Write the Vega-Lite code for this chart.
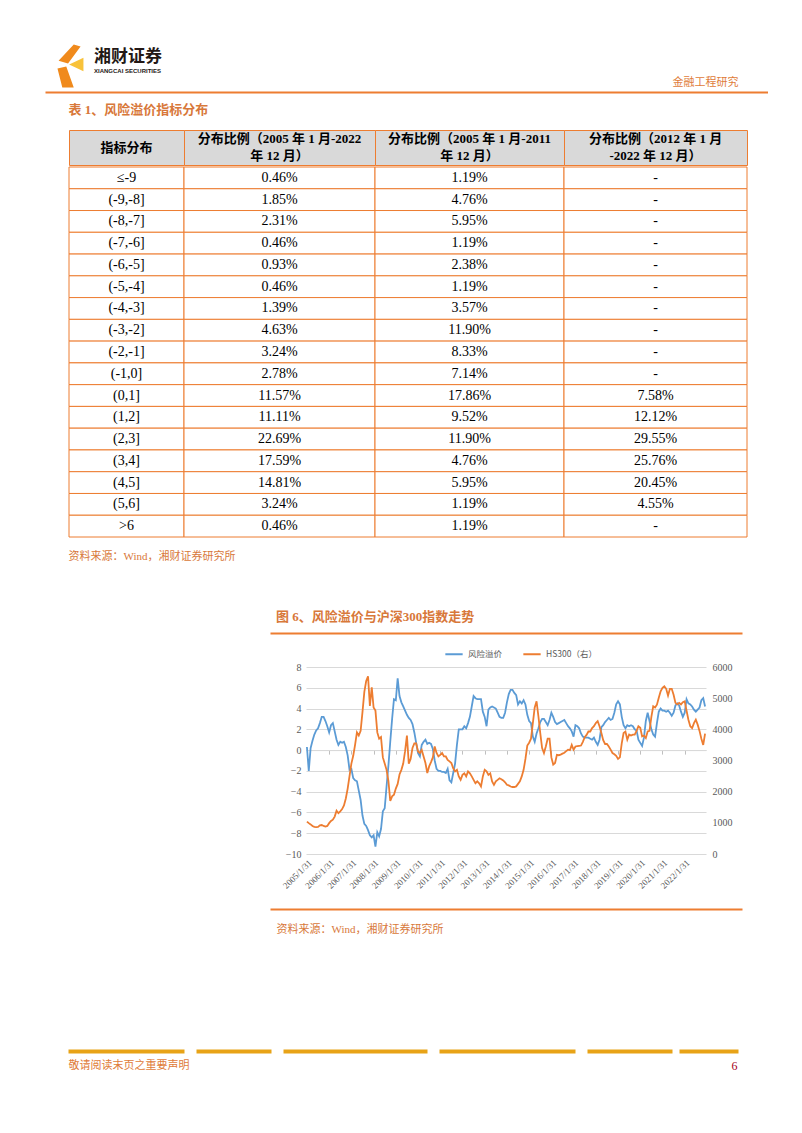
{
  "$schema": "https://vega.github.io/schema/vega-lite/v6.json",
  "background": "white",
  "padding": {"left": 45, "top": 44, "right": 0, "bottom": 20},
  "spacing": 0,
  "resolve": {"scale": {"color": "independent", "shape": "independent"}, "legend": {"color": "independent", "shape": "independent"}},
  "config": {
    "view": {"stroke": null},
    "font": "Noto Sans CJK SC",
    "axis": {"labelFont": "Liberation Serif", "titleFont": "Noto Sans CJK SC"},
    "title": {"font": "Noto Sans CJK SC"}
  },
  "datasets": {
    "head": [
      {"col": "bin", "t": "指标分布"},
      {"col": "all", "t": "分布比例（2005 年 1 月-2022\n年 12 月）"},
      {"col": "early", "t": "分布比例（2005 年 1 月-2011\n年 12 月）"},
      {"col": "late", "t": "分布比例（2012 年 1 月\n-2022 年 12 月）"}
    ],
    "table": [
      {"bin": "≤-9", "all": "0.46%", "early": "1.19%", "late": "-"},
      {"bin": "(-9,-8]", "all": "1.85%", "early": "4.76%", "late": "-"},
      {"bin": "(-8,-7]", "all": "2.31%", "early": "5.95%", "late": "-"},
      {"bin": "(-7,-6]", "all": "0.46%", "early": "1.19%", "late": "-"},
      {"bin": "(-6,-5]", "all": "0.93%", "early": "2.38%", "late": "-"},
      {"bin": "(-5,-4]", "all": "0.46%", "early": "1.19%", "late": "-"},
      {"bin": "(-4,-3]", "all": "1.39%", "early": "3.57%", "late": "-"},
      {"bin": "(-3,-2]", "all": "4.63%", "early": "11.90%", "late": "-"},
      {"bin": "(-2,-1]", "all": "3.24%", "early": "8.33%", "late": "-"},
      {"bin": "(-1,0]", "all": "2.78%", "early": "7.14%", "late": "-"},
      {"bin": "(0,1]", "all": "11.57%", "early": "17.86%", "late": "7.58%"},
      {"bin": "(1,2]", "all": "11.11%", "early": "9.52%", "late": "12.12%"},
      {"bin": "(2,3]", "all": "22.69%", "early": "11.90%", "late": "29.55%"},
      {"bin": "(3,4]", "all": "17.59%", "early": "4.76%", "late": "25.76%"},
      {"bin": "(4,5]", "all": "14.81%", "early": "5.95%", "late": "20.45%"},
      {"bin": "(5,6]", "all": "3.24%", "early": "1.19%", "late": "4.55%"},
      {"bin": ">6", "all": "0.46%", "early": "1.19%", "late": "-"}
    ],
    "logo": [
      {"part": "orange"},
      {"part": "yellow"}
    ],
    "series": [
      {"m":"2005-01","rp":0.3,"hs":1040},{"m":"2005-02","rp":-2.0,"hs":990},{"m":"2005-03","rp":0.2,"hs":950},{"m":"2005-04","rp":0.9,"hs":900},{"m":"2005-05","rp":1.5,"hs":870},{"m":"2005-06","rp":1.9,"hs":860},{"m":"2005-07","rp":2.1,"hs":870},{"m":"2005-08","rp":2.6,"hs":920},{"m":"2005-09","rp":3.2,"hs":930},{"m":"2005-10","rp":3.2,"hs":900},{"m":"2005-11","rp":2.8,"hs":880},{"m":"2005-12","rp":2.3,"hs":900},
      {"m":"2006-01","rp":1.7,"hs":990},{"m":"2006-02","rp":2.4,"hs":1060},{"m":"2006-03","rp":2.6,"hs":1100},{"m":"2006-04","rp":1.8,"hs":1200},{"m":"2006-05","rp":1.0,"hs":1390},{"m":"2006-06","rp":0.5,"hs":1310},{"m":"2006-07","rp":0.8,"hs":1370},{"m":"2006-08","rp":0.7,"hs":1440},{"m":"2006-09","rp":0.8,"hs":1560},{"m":"2006-10","rp":0.3,"hs":1780},{"m":"2006-11","rp":-0.5,"hs":2100},{"m":"2006-12","rp":-1.9,"hs":2500},
      {"m":"2007-01","rp":-1.8,"hs":2900},{"m":"2007-02","rp":-2.7,"hs":3150},{"m":"2007-03","rp":-2.9,"hs":3500},{"m":"2007-04","rp":-3.0,"hs":3900},{"m":"2007-05","rp":-3.9,"hs":3800},{"m":"2007-06","rp":-4.8,"hs":3950},{"m":"2007-07","rp":-6.3,"hs":4550},{"m":"2007-08","rp":-7.1,"hs":5200},{"m":"2007-09","rp":-7.3,"hs":5550},{"m":"2007-10","rp":-7.7,"hs":5700},{"m":"2007-11","rp":-8.2,"hs":4750},{"m":"2007-12","rp":-8.4,"hs":5350},
      {"m":"2008-01","rp":-8.2,"hs":4700},{"m":"2008-02","rp":-9.3,"hs":4600},{"m":"2008-03","rp":-7.9,"hs":3900},{"m":"2008-04","rp":-8.3,"hs":3700},{"m":"2008-05","rp":-7.6,"hs":3750},{"m":"2008-06","rp":-5.9,"hs":3100},{"m":"2008-07","rp":-5.6,"hs":2900},{"m":"2008-08","rp":-3.5,"hs":2700},{"m":"2008-09","rp":-1.5,"hs":2350},{"m":"2008-10","rp":0.8,"hs":1700},{"m":"2008-11","rp":3.0,"hs":1850},{"m":"2008-12","rp":4.9,"hs":1900},
      {"m":"2009-01","rp":4.8,"hs":2100},{"m":"2009-02","rp":6.9,"hs":2250},{"m":"2009-03","rp":5.2,"hs":2550},{"m":"2009-04","rp":4.6,"hs":2700},{"m":"2009-05","rp":4.2,"hs":2900},{"m":"2009-06","rp":3.8,"hs":3300},{"m":"2009-07","rp":3.4,"hs":3800},{"m":"2009-08","rp":3.1,"hs":2900},{"m":"2009-09","rp":2.9,"hs":3050},{"m":"2009-10","rp":2.5,"hs":3400},{"m":"2009-11","rp":1.7,"hs":3550},{"m":"2009-12","rp":0.7,"hs":3550},
      {"m":"2010-01","rp":-0.3,"hs":3290},{"m":"2010-02","rp":-0.6,"hs":3240},{"m":"2010-03","rp":0.5,"hs":3340},{"m":"2010-04","rp":0.8,"hs":3130},{"m":"2010-05","rp":1.0,"hs":2920},{"m":"2010-06","rp":0.6,"hs":2600},{"m":"2010-07","rp":0.7,"hs":2810},{"m":"2010-08","rp":0.6,"hs":2950},{"m":"2010-09","rp":0.1,"hs":3100},{"m":"2010-10","rp":-1.0,"hs":3450},{"m":"2010-11","rp":-1.8,"hs":3240},{"m":"2010-12","rp":-2.0,"hs":3130},
      {"m":"2011-01","rp":-2.0,"hs":3180},{"m":"2011-02","rp":-2.1,"hs":3240},{"m":"2011-03","rp":-2.1,"hs":3130},{"m":"2011-04","rp":-2.2,"hs":3130},{"m":"2011-05","rp":-1.8,"hs":3020},{"m":"2011-06","rp":-2.9,"hs":2970},{"m":"2011-07","rp":-3.1,"hs":2920},{"m":"2011-08","rp":-2.2,"hs":2750},{"m":"2011-09","rp":-1.3,"hs":2650},{"m":"2011-10","rp":0.5,"hs":2700},{"m":"2011-11","rp":2.0,"hs":2490},{"m":"2011-12","rp":2.0,"hs":2380},
      {"m":"2012-01","rp":2.0,"hs":2540},{"m":"2012-02","rp":2.3,"hs":2590},{"m":"2012-03","rp":2.1,"hs":2490},{"m":"2012-04","rp":2.6,"hs":2650},{"m":"2012-05","rp":3.2,"hs":2590},{"m":"2012-06","rp":4.2,"hs":2490},{"m":"2012-07","rp":5.2,"hs":2380},{"m":"2012-08","rp":5.0,"hs":2270},{"m":"2012-09","rp":4.9,"hs":2330},{"m":"2012-10","rp":4.9,"hs":2270},{"m":"2012-11","rp":4.9,"hs":2170},{"m":"2012-12","rp":3.7,"hs":2490},
      {"m":"2013-01","rp":3.2,"hs":2700},{"m":"2013-02","rp":2.3,"hs":2650},{"m":"2013-03","rp":3.9,"hs":2540},{"m":"2013-04","rp":4.1,"hs":2590},{"m":"2013-05","rp":4.2,"hs":2330},{"m":"2013-06","rp":4.1,"hs":2220},{"m":"2013-07","rp":4.0,"hs":2330},{"m":"2013-08","rp":3.6,"hs":2380},{"m":"2013-09","rp":3.2,"hs":2430},{"m":"2013-10","rp":3.1,"hs":2400},{"m":"2013-11","rp":3.1,"hs":2360},{"m":"2013-12","rp":3.6,"hs":2300},
      {"m":"2014-01","rp":4.6,"hs":2220},{"m":"2014-02","rp":5.4,"hs":2200},{"m":"2014-03","rp":5.8,"hs":2165},{"m":"2014-04","rp":5.8,"hs":2150},{"m":"2014-05","rp":5.5,"hs":2150},{"m":"2014-06","rp":5.3,"hs":2170},{"m":"2014-07","rp":4.4,"hs":2250},{"m":"2014-08","rp":4.7,"hs":2330},{"m":"2014-09","rp":4.5,"hs":2490},{"m":"2014-10","rp":4.8,"hs":2700},{"m":"2014-11","rp":4.4,"hs":3050},{"m":"2014-12","rp":3.4,"hs":3480},
      {"m":"2015-01","rp":2.8,"hs":3570},{"m":"2015-02","rp":2.6,"hs":3700},{"m":"2015-03","rp":1.3,"hs":4200},{"m":"2015-04","rp":0.8,"hs":4700},{"m":"2015-05","rp":1.6,"hs":4900},{"m":"2015-06","rp":2.1,"hs":4420},{"m":"2015-07","rp":2.7,"hs":3880},{"m":"2015-08","rp":3.0,"hs":3400},{"m":"2015-09","rp":3.0,"hs":3240},{"m":"2015-10","rp":2.7,"hs":3450},{"m":"2015-11","rp":2.4,"hs":3700},{"m":"2015-12","rp":2.9,"hs":3700},
      {"m":"2016-01","rp":3.6,"hs":3100},{"m":"2016-02","rp":3.2,"hs":2870},{"m":"2016-03","rp":2.7,"hs":2920},{"m":"2016-04","rp":2.5,"hs":3180},{"m":"2016-05","rp":2.6,"hs":3170},{"m":"2016-06","rp":2.7,"hs":3190},{"m":"2016-07","rp":2.8,"hs":3220},{"m":"2016-08","rp":2.9,"hs":3250},{"m":"2016-09","rp":2.6,"hs":3300},{"m":"2016-10","rp":2.3,"hs":3345},{"m":"2016-11","rp":2.1,"hs":3330},{"m":"2016-12","rp":1.8,"hs":3500},
      {"m":"2017-01","rp":1.3,"hs":3345},{"m":"2017-02","rp":2.4,"hs":3450},{"m":"2017-03","rp":2.3,"hs":3460},{"m":"2017-04","rp":2.1,"hs":3470},{"m":"2017-05","rp":1.6,"hs":3480},{"m":"2017-06","rp":1.3,"hs":3600},{"m":"2017-07","rp":1.2,"hs":3750},{"m":"2017-08","rp":1.2,"hs":3820},{"m":"2017-09","rp":1.2,"hs":3930},{"m":"2017-10","rp":1.1,"hs":3930},{"m":"2017-11","rp":1.0,"hs":4040},{"m":"2017-12","rp":1.2,"hs":4100},
      {"m":"2018-01","rp":0.8,"hs":4200},{"m":"2018-02","rp":0.5,"hs":4260},{"m":"2018-03","rp":1.0,"hs":4100},{"m":"2018-04","rp":2.2,"hs":3880},{"m":"2018-05","rp":2.4,"hs":3650},{"m":"2018-06","rp":2.7,"hs":3530},{"m":"2018-07","rp":2.9,"hs":3530},{"m":"2018-08","rp":3.1,"hs":3450},{"m":"2018-09","rp":2.9,"hs":3350},{"m":"2018-10","rp":3.0,"hs":3240},{"m":"2018-11","rp":3.6,"hs":3200},{"m":"2018-12","rp":4.4,"hs":3150},
      {"m":"2019-01","rp":4.7,"hs":3050},{"m":"2019-02","rp":4.4,"hs":3100},{"m":"2019-03","rp":3.2,"hs":3550},{"m":"2019-04","rp":2.4,"hs":3880},{"m":"2019-05","rp":2.1,"hs":3930},{"m":"2019-06","rp":2.4,"hs":3670},{"m":"2019-07","rp":2.3,"hs":3830},{"m":"2019-08","rp":2.4,"hs":3800},{"m":"2019-09","rp":2.3,"hs":3830},{"m":"2019-10","rp":2.0,"hs":3830},{"m":"2019-11","rp":1.9,"hs":3950},{"m":"2019-12","rp":1.0,"hs":4100},
      {"m":"2020-01","rp":0.7,"hs":4050},{"m":"2020-02","rp":0.4,"hs":3770},{"m":"2020-03","rp":1.2,"hs":3800},{"m":"2020-04","rp":2.8,"hs":3720},{"m":"2020-05","rp":3.6,"hs":3930},{"m":"2020-06","rp":2.8,"hs":3950},{"m":"2020-07","rp":2.0,"hs":4400},{"m":"2020-08","rp":1.5,"hs":4740},{"m":"2020-09","rp":1.3,"hs":4700},{"m":"2020-10","rp":2.6,"hs":4790},{"m":"2020-11","rp":3.7,"hs":5010},{"m":"2020-12","rp":4.0,"hs":5220},
      {"m":"2021-01","rp":3.8,"hs":5330},{"m":"2021-02","rp":3.8,"hs":5380},{"m":"2021-03","rp":3.7,"hs":5300},{"m":"2021-04","rp":3.8,"hs":5080},{"m":"2021-05","rp":3.6,"hs":5300},{"m":"2021-06","rp":3.3,"hs":5300},{"m":"2021-07","rp":3.6,"hs":5110},{"m":"2021-08","rp":4.3,"hs":4850},{"m":"2021-09","rp":4.5,"hs":4800},{"m":"2021-10","rp":4.3,"hs":4850},{"m":"2021-11","rp":3.7,"hs":4800},{"m":"2021-12","rp":3.2,"hs":4870},
      {"m":"2022-01","rp":3.6,"hs":4900},{"m":"2022-02","rp":4.9,"hs":4600},{"m":"2022-03","rp":4.5,"hs":4310},{"m":"2022-04","rp":4.4,"hs":4100},{"m":"2022-05","rp":4.2,"hs":4040},{"m":"2022-06","rp":3.9,"hs":4200},{"m":"2022-07","rp":3.7,"hs":4310},{"m":"2022-08","rp":3.9,"hs":4150},{"m":"2022-09","rp":4.1,"hs":3950},{"m":"2022-10","rp":4.8,"hs":3700},{"m":"2022-11","rp":5.0,"hs":3500},{"m":"2022-12","rp":4.2,"hs":3860}
    ]
  },
  "vconcat": [
    {
      "width": 723, "height": 48,
      "data": {"name": "logo"},
      "title": {"text": "湘财证券", "subtitle": "XIANGCAI SECURITIES", "anchor": "start", "frame": "group", "dx": 49, "offset": -31, "fontSize": 17, "fontWeight": "bold", "color": "#231815", "subtitleFont": "Liberation Sans", "subtitleFontSize": 6, "subtitleFontWeight": "bold", "subtitleColor": "#231815", "subtitlePadding": 2},
      "mark": {"type": "point", "filled": true, "opacity": 1, "size": 1936, "strokeWidth": 0},
      "encoding": {
        "x": {"datum": 0.0346, "type": "quantitative", "scale": {"domain": [0, 1]}, "axis": {"orient": "bottom", "domain": true, "domainColor": "#ED7D31", "domainWidth": 2, "labels": false, "ticks": false, "grid": false, "title": "金融工程研究", "titleX": 693, "titleY": -10, "titleAlign": "right", "titleBaseline": "middle", "titleFontSize": 11, "titleFontWeight": "normal", "titleColor": "#E07B39"}},
        "y": {"datum": 0.5417, "type": "quantitative", "scale": {"domain": [0, 1]}, "axis": null},
        "color": {"field": "part", "type": "nominal", "scale": {"domain": ["orange", "yellow"], "range": ["#F08A1C", "#F8C23A"]}, "legend": null},
        "shape": {"field": "part", "type": "nominal", "scale": {"domain": ["orange", "yellow"], "range": ["M0.17,-0.98 L0.48,-0.89 L-0.09,-0.11 L-0.52,-0.24 Z M-0.57,0.11 L-0.17,0.02 L0.17,0.98 L-0.35,0.98 Z", "M-0.04,-0.07 L0.61,-0.37 L0.61,0.24 Z"]}, "legend": null}
      }
    },
    {"width": 10, "height": 11, "mark": {"type": "point", "opacity": 0}},
    {
      "spacing": 0,
      "hconcat": [
        {"width": 23, "height": 1, "mark": {"type": "point", "opacity": 0}},
        {
          "spacing": 0,
          "title": {"text": "表 1、风险溢价指标分布", "anchor": "start", "offset": 13, "font": "Liberation Serif, Noto Sans CJK SC", "fontSize": 13, "fontWeight": "bold", "color": "#D8783A"},
          "vconcat": [
            {
              "spacing": 0, "bounds": "flush",
              "hconcat": [
                {"width": 115, "height": 35, "view": {"fill": "#D9D9D9", "stroke": "#ED7D31", "strokeWidth": 1}, "data": {"name": "head"}, "transform": [{"filter": "datum.col == 'bin'"}], "mark": {"type": "text", "font": "Liberation Serif, Noto Sans CJK SC", "fontSize": 13, "fontWeight": "bold", "color": "#000000", "lineBreak": "\n", "lineHeight": 17, "baseline": "middle"}, "encoding": {"text": {"field": "t"}}},
                {"width": 191, "height": 35, "view": {"fill": "#D9D9D9", "stroke": "#ED7D31", "strokeWidth": 1}, "data": {"name": "head"}, "transform": [{"filter": "datum.col == 'all'"}], "mark": {"type": "text", "font": "Liberation Serif, Noto Sans CJK SC", "fontSize": 13, "fontWeight": "bold", "color": "#000000", "lineBreak": "\n", "lineHeight": 17, "baseline": "middle", "dy": -8.5}, "encoding": {"text": {"field": "t"}}},
                {"width": 189, "height": 35, "view": {"fill": "#D9D9D9", "stroke": "#ED7D31", "strokeWidth": 1}, "data": {"name": "head"}, "transform": [{"filter": "datum.col == 'early'"}], "mark": {"type": "text", "font": "Liberation Serif, Noto Sans CJK SC", "fontSize": 13, "fontWeight": "bold", "color": "#000000", "lineBreak": "\n", "lineHeight": 17, "baseline": "middle", "dy": -8.5}, "encoding": {"text": {"field": "t"}}},
                {"width": 183, "height": 35, "view": {"fill": "#D9D9D9", "stroke": "#ED7D31", "strokeWidth": 1}, "data": {"name": "head"}, "transform": [{"filter": "datum.col == 'late'"}], "mark": {"type": "text", "font": "Liberation Serif, Noto Sans CJK SC", "fontSize": 13, "fontWeight": "bold", "color": "#000000", "lineBreak": "\n", "lineHeight": 17, "baseline": "middle", "dy": -8.5}, "encoding": {"text": {"field": "t"}}}
              ]
            },
            {
              "spacing": 0, "bounds": "flush",
              "hconcat": [
                {"width": 115, "height": 370, "data": {"name": "table"}, "encoding": {"y": {"field": "bin", "type": "ordinal", "sort": null, "axis": null, "scale": {"paddingInner": 0, "paddingOuter": 0}}}, "layer": [{"mark": {"type": "rect", "fill": "white", "stroke": "#ED7D31", "strokeWidth": 1}}, {"mark": {"type": "text", "font": "Liberation Serif", "fontSize": 14, "color": "#000000", "baseline": "middle"}, "encoding": {"text": {"field": "bin"}}}]},
                {"width": 191, "height": 370, "data": {"name": "table"}, "encoding": {"y": {"field": "bin", "type": "ordinal", "sort": null, "axis": null, "scale": {"paddingInner": 0, "paddingOuter": 0}}}, "layer": [{"mark": {"type": "rect", "fill": "white", "stroke": "#ED7D31", "strokeWidth": 1}}, {"mark": {"type": "text", "font": "Liberation Serif", "fontSize": 14, "color": "#000000", "baseline": "middle"}, "encoding": {"text": {"field": "all"}}}]},
                {"width": 189, "height": 370, "data": {"name": "table"}, "encoding": {"y": {"field": "bin", "type": "ordinal", "sort": null, "axis": null, "scale": {"paddingInner": 0, "paddingOuter": 0}}}, "layer": [{"mark": {"type": "rect", "fill": "white", "stroke": "#ED7D31", "strokeWidth": 1}}, {"mark": {"type": "text", "font": "Liberation Serif", "fontSize": 14, "color": "#000000", "baseline": "middle"}, "encoding": {"text": {"field": "early"}}}]},
                {"width": 183, "height": 370, "data": {"name": "table"}, "encoding": {"y": {"field": "bin", "type": "ordinal", "sort": null, "axis": null, "scale": {"paddingInner": 0, "paddingOuter": 0}}}, "layer": [{"mark": {"type": "rect", "fill": "white", "stroke": "#ED7D31", "strokeWidth": 1}}, {"mark": {"type": "text", "font": "Liberation Serif", "fontSize": 14, "color": "#000000", "baseline": "middle"}, "encoding": {"text": {"field": "late"}}}]}
              ]
            }
          ]
        }
      ]
    },
    {
      "width": 400, "height": 73,
      "mark": {"type": "point", "opacity": 0},
      "encoding": {"x": {"datum": 0, "type": "quantitative", "axis": {"orient": "top", "domain": false, "labels": false, "ticks": false, "grid": false, "title": "资料来源：Wind，湘财证券研究所", "titleX": 23, "titleY": 18, "titleAlign": "left", "titleBaseline": "middle", "titleFontSize": 11, "titleFontWeight": "normal", "titleColor": "#D8783A", "titleFont": "Liberation Serif, Noto Sans CJK SC"}}}
    },
    {
      "spacing": 0,
      "hconcat": [
        {"width": 225, "height": 1, "mark": {"type": "point", "opacity": 0}},
        {
          "width": 472, "height": 11,
          "mark": {"type": "point", "opacity": 0},
          "title": {"text": "图 6、风险溢价与沪深300指数走势", "anchor": "start", "dx": 6, "offset": 9, "font": "Liberation Serif, Noto Sans CJK SC", "fontSize": 13, "fontWeight": "bold", "color": "#D8783A"},
          "encoding": {"x": {"datum": 0, "type": "quantitative", "axis": {"orient": "top", "domain": true, "domainColor": "#ED7D31", "domainWidth": 2, "labels": false, "ticks": false, "grid": false, "title": null}}}
        }
      ]
    },
    {
      "spacing": 0,
      "resolve": {"scale": {"color": "independent"}, "legend": {"color": "independent"}},
      "hconcat": [
        {"width": 236, "height": 1, "mark": {"type": "point", "opacity": 0}},
        {
          "width": 400, "height": 187,
          "data": {"name": "series"},
          "layer": [
            {
              "mark": {"type": "line", "strokeWidth": 1.8},
              "encoding": {
                "x": {"field": "m", "type": "ordinal", "scale": {"type": "point", "padding": 0.5}, "axis": {"orient": "bottom", "values": ["2005-01","2006-01","2007-01","2008-01","2009-01","2010-01","2011-01","2012-01","2013-01","2014-01","2015-01","2016-01","2017-01","2018-01","2019-01","2020-01","2021-01","2022-01"], "labelExpr": "slice(datum.value, 0, 4) + '/1/31'", "labelAngle": -45, "labelFontSize": 9, "labelColor": "#595959", "labelPadding": 4, "labelOverlap": false, "domain": false, "ticks": false, "grid": false, "title": null}},
                "y": {"field": "rp", "type": "quantitative", "scale": {"domain": [-10, 8], "nice": false, "zero": false}, "axis": {"orient": "left", "values": [-10, -8, -6, -4, -2, 0, 2, 4, 6, 8], "grid": true, "gridColor": "#D9D9D9", "gridWidth": 1, "domain": false, "ticks": false, "labelPadding": 5, "labelFontSize": 10, "labelColor": "#595959", "title": null}},
                "color": {"datum": "风险溢价", "type": "nominal", "scale": {"domain": ["风险溢价", "HS300（右）"], "range": ["#5B9BD5", "#ED7D31"]}, "legend": {"orient": "none", "legendX": 138, "legendY": -23, "direction": "horizontal", "title": null, "symbolType": "stroke", "symbolSize": 300, "symbolStrokeWidth": 2, "labelFont": "Noto Sans CJK SC", "labelFontSize": 8.5, "labelColor": "#595959", "columnPadding": 16, "labelOffset": 4, "padding": 0}}
              }
            },
            {
              "mark": {"type": "line", "strokeWidth": 1.8},
              "encoding": {
                "x": {"field": "m", "type": "ordinal", "scale": {"type": "point", "padding": 0.5}, "axis": {"orient": "bottom", "offset": -103.9, "values": ["2006-01","2007-01","2008-01","2009-01","2010-01","2011-01","2012-01","2013-01","2014-01","2015-01","2016-01","2017-01","2018-01","2019-01","2020-01","2021-01","2022-01"], "labels": false, "domain": true, "domainColor": "#D9D9D9", "ticks": true, "tickColor": "#BFBFBF", "tickSize": 4, "grid": false, "title": null}},
                "y": {"field": "hs", "type": "quantitative", "scale": {"domain": [0, 6000], "nice": false}, "axis": {"orient": "right", "values": [0, 1000, 2000, 3000, 4000, 5000, 6000], "format": "d", "grid": false, "domain": false, "ticks": false, "labelPadding": 6, "labelFontSize": 10, "labelColor": "#595959", "title": null}},
                "color": {"datum": "HS300（右）", "type": "nominal"}
              }
            }
          ],
          "resolve": {"scale": {"y": "independent"}, "axis": {"x": "independent"}}
        }
      ]
    },
    {
      "spacing": 0,
      "hconcat": [
        {"width": 225, "height": 1, "mark": {"type": "point", "opacity": 0}},
        {
          "width": 472, "height": 18,
          "mark": {"type": "point", "opacity": 0},
          "encoding": {"x": {"datum": 0, "type": "quantitative", "axis": {"orient": "bottom", "domain": true, "domainColor": "#ED7D31", "domainWidth": 2, "labels": false, "ticks": false, "grid": false, "title": "资料来源：Wind，湘财证券研究所", "titleX": 6, "titleY": 20, "titleAlign": "left", "titleBaseline": "middle", "titleFontSize": 11, "titleFontWeight": "normal", "titleColor": "#D8783A", "titleFont": "Liberation Serif, Noto Sans CJK SC"}}}
        }
      ]
    },
    {
      "spacing": 0,
      "hconcat": [
        {"width": 23, "height": 1, "mark": {"type": "point", "opacity": 0}},
        {
          "width": 670, "height": 117,
          "mark": {"type": "point", "opacity": 0},
          "encoding": {
            "x": {"datum": 0, "type": "quantitative", "axis": {"orient": "bottom", "domain": true, "domainColor": "#E8A317", "domainWidth": 4, "domainDash": [116, 12, 75, 12, 144, 12, 136, 12, 85, 7, 70], "labels": false, "ticks": false, "grid": false, "title": "敬请阅读末页之重要声明", "titleX": 0, "titleY": 14, "titleAlign": "left", "titleBaseline": "middle", "titleFontSize": 11, "titleFontWeight": "normal", "titleColor": "#E07B39"}},
            "y": {"datum": 0, "type": "quantitative", "axis": {"orient": "right", "domain": false, "labels": false, "ticks": false, "grid": false, "title": "6", "titleAngle": 0, "titleX": -7, "titleY": 131, "titleAlign": "left", "titleBaseline": "middle", "titleFontSize": 12, "titleFontWeight": "normal", "titleColor": "#A50021", "titleFont": "Liberation Serif"}}
          }
        }
      ]
    }
  ]
}
